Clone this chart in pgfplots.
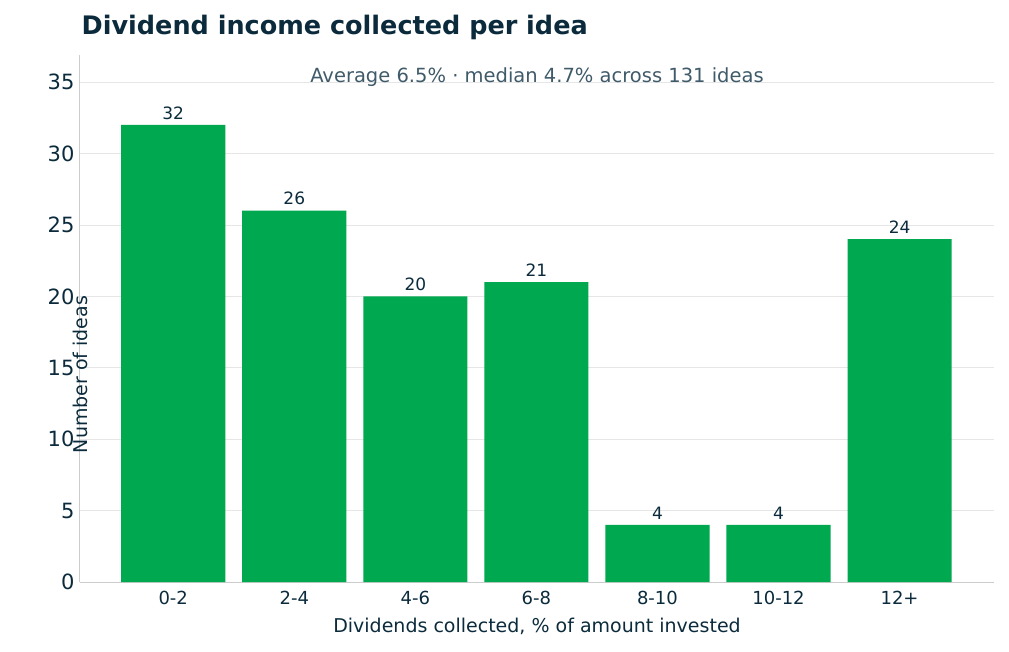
\documentclass[border=0pt]{standalone}
\usepackage{pgfplots}
\pgfplotsset{compat=1.18}
\usepackage{fontspec}
\setmainfont{DejaVu Sans}
\definecolor{barg}{HTML}{00A94F}
\definecolor{navy}{HTML}{0B2B3C}
\definecolor{subg}{HTML}{3F5A69}
\definecolor{gridc}{HTML}{E6E6E6}
\definecolor{spine}{HTML}{CCCCCC}
\begin{document}
\begin{tikzpicture}
\begin{axis}[
  scale only axis, width=914pt, height=527pt,
  xmin=-0.77, xmax=6.78, ymin=0, ymax=36.9,
  ybar, bar width=0.86, bar shift=0pt,
  xtick={0,...,6}, xticklabels={0-2,2-4,4-6,6-8,8-10,10-12,12+},
  ytick={0,5,...,35},
  axis lines*=left, axis line style={spine, line width=1pt, -},
  major tick length=0pt,
  ymajorgrids, grid style={gridc, line width=0.8pt},
  ticklabel style={text=navy},
  yticklabel style={font=\fontsize{21}{25}\selectfont, xshift=-2pt},
  xticklabel style={font=\fontsize{18}{21}\selectfont, yshift=-6pt},
  /pgf/number format/assume math mode=true,
  xlabel={Dividends collected, \% of amount invested},
  ylabel={Number of ideas},
  label style={text=navy, font=\fontsize{19}{23}\selectfont},
  xlabel style={at={(rel axis cs:0.5,0)}, anchor=center, yshift=-44pt},
  ylabel style={at={(rel axis cs:0,0.5)}, anchor=center, xshift=-56pt, rotate=0},
  nodes near coords, nodes near coords style={text=navy, font=\fontsize{17}{20}\selectfont, yshift=2pt},
  clip=false,
]
\addplot[fill=barg, draw=none] coordinates {(0,32) (1,26) (2,20) (3,21) (4,4) (5,4) (6,24)};
\node[anchor=west, text=navy, font=\bfseries\fontsize{25.5}{30}\selectfont] at (rel axis cs:-0.002,1.053) {Dividend income collected per idea};
\node[text=subg, font=\fontsize{19.5}{23}\selectfont] at (rel axis cs:0.5,0.958) {Average 6.5\% · median 4.7\% across 131 ideas};
\coordinate (o) at (rel axis cs:0,0);
\end{axis}
\useasboundingbox ([xshift=-80pt,yshift=-69pt]o) rectangle ++(1009pt,651pt);
\end{tikzpicture}
\end{document}
